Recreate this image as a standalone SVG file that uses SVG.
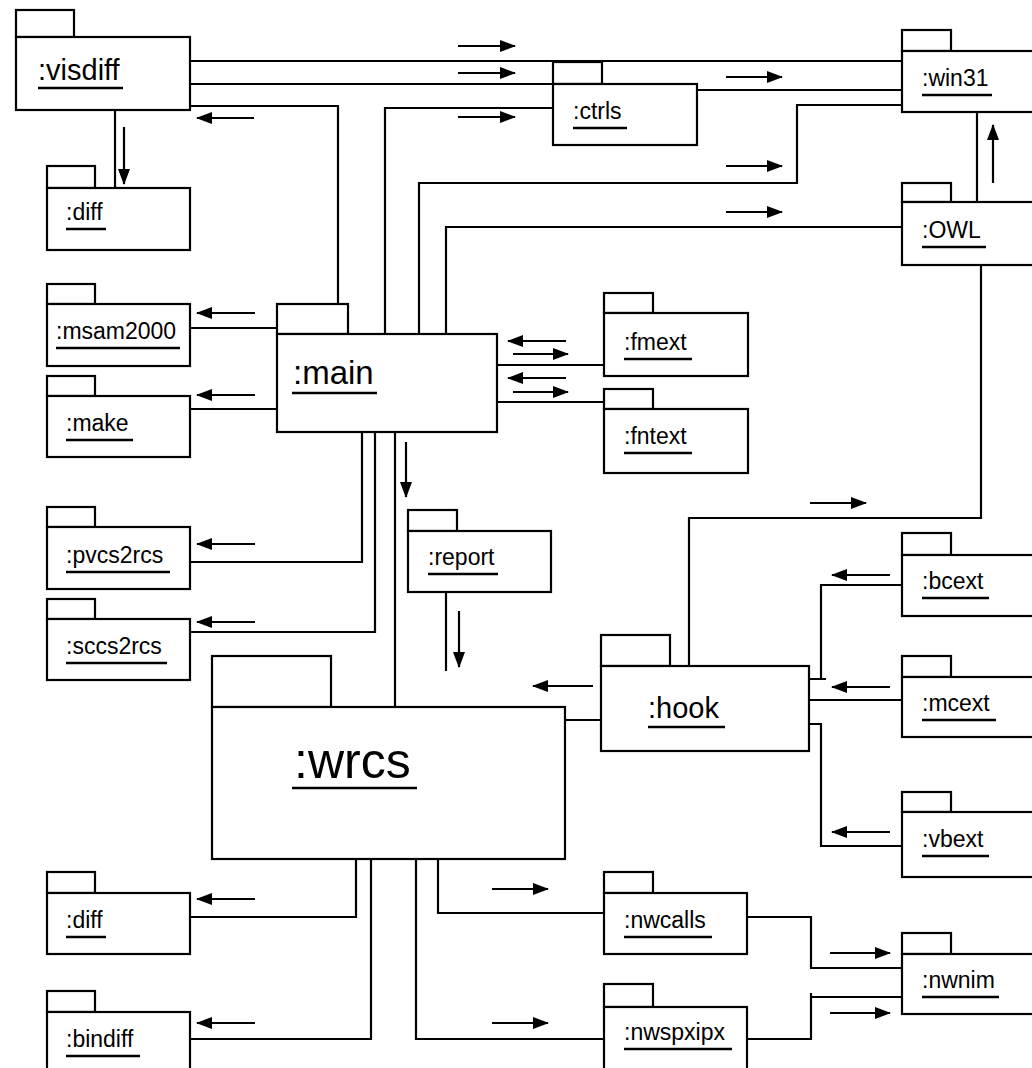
<svg xmlns="http://www.w3.org/2000/svg" width="1032" height="1068" viewBox="0 0 1032 1068">
<style>
.bx{fill:#fff;stroke:#000;stroke-width:2.2}
.c{fill:none;stroke:#000;stroke-width:2.2}
.a{fill:none;stroke:#000;stroke-width:2.2;marker-end:url(#ah)}
.t{font-family:"Liberation Sans",Arial,Helvetica,sans-serif;font-size:23px;fill:#000}
.tm{font-size:29px}
.tb{font-size:33px}
.tw{font-size:50px}
.u{stroke:#000;stroke-width:2.5}
</style>
<defs>
<marker id="ah" markerUnits="userSpaceOnUse" markerWidth="16" markerHeight="12" refX="15" refY="6" orient="auto">
<path d="M0,0 L16,6 L0,12 z" fill="#000"/>
</marker>
</defs>
<rect width="1032" height="1068" fill="#fff"/>
<g id="connectors">
<path class="c" d="M190,61 H902"/>
<path class="c" d="M190,84 H553"/>
<path class="c" d="M338,304 V106 H190"/>
<path class="c" d="M385,334 V108 H553"/>
<path class="c" d="M697,90 H902"/>
<path class="c" d="M419,334 V183 H797 V105 H902"/>
<path class="c" d="M446,334 V227 H902"/>
<path class="c" d="M977,202 V112"/>
<path class="c" d="M115,110 V188"/>
<path class="c" d="M277,328 H190"/>
<path class="c" d="M277,409 H190"/>
<path class="c" d="M362,432 V562 H190"/>
<path class="c" d="M375,432 V632 H190"/>
<path class="c" d="M395,432 V707"/>
<path class="c" d="M446,592 V671"/>
<path class="c" d="M497,365 H604"/>
<path class="c" d="M497,402 H604"/>
<path class="c" d="M689,666 V518 H981 V265"/>
<path class="c" d="M902,585 H821 V679 H809 M821,679 H826"/>
<path class="c" d="M902,700 H809"/>
<path class="c" d="M809,724 H821 V846 H902"/>
<path class="c" d="M601,720 H565"/>
<path class="c" d="M356,859 V917 H190"/>
<path class="c" d="M371,859 V1039 H190"/>
<path class="c" d="M438,859 V913 H604"/>
<path class="c" d="M416,859 V1039 H604"/>
<path class="c" d="M747,917 H811 V968 H902"/>
<path class="c" d="M747,1039 H811 V997 H902 M811,997 V993"/>
<path class="a" d="M458,46 H515"/>
<path class="a" d="M458,73 H515"/>
<path class="a" d="M458,117 H515"/>
<path class="a" d="M254,118 H197"/>
<path class="a" d="M726,77 H782"/>
<path class="a" d="M726,166 H782"/>
<path class="a" d="M726,212 H782"/>
<path class="a" d="M993,183 V125"/>
<path class="a" d="M124,127 V184"/>
<path class="a" d="M255,313 H197"/>
<path class="a" d="M255,395 H197"/>
<path class="a" d="M255,544 H197"/>
<path class="a" d="M255,622 H197"/>
<path class="a" d="M406,442 V497"/>
<path class="a" d="M459,611 V667"/>
<path class="a" d="M566,341 H508"/>
<path class="a" d="M513,354 H568"/>
<path class="a" d="M566,378 H508"/>
<path class="a" d="M513,392 H568"/>
<path class="a" d="M810,503 H866"/>
<path class="a" d="M890,575 H832"/>
<path class="a" d="M890,687 H832"/>
<path class="a" d="M890,832 H832"/>
<path class="a" d="M593,686 H533"/>
<path class="a" d="M255,899 H197"/>
<path class="a" d="M255,1023 H197"/>
<path class="a" d="M492,889 H548"/>
<path class="a" d="M492,1023 H548"/>
<path class="a" d="M830,953 H890"/>
<path class="a" d="M830,1013 H890"/>
</g>
<g id="visdiff"><rect class="bx" x="16" y="10" width="58" height="27"/><rect class="bx" x="16" y="37" width="174" height="73"/><text class="t tm" x="38" y="80">:visdiff</text><line class="u" x1="38" y1="88" x2="123" y2="88"/></g>
<g id="diff1"><rect class="bx" x="47" y="166" width="48" height="22"/><rect class="bx" x="47" y="188" width="143" height="62"/><text class="t" x="66" y="220">:diff</text><line class="u" x1="66" y1="229" x2="106" y2="229"/></g>
<g id="msam2000"><rect class="bx" x="47" y="284" width="48" height="20"/><rect class="bx" x="47" y="304" width="143" height="62"/><text class="t" x="56" y="339">:msam2000</text><line class="u" x1="56" y1="348" x2="180" y2="348"/></g>
<g id="make"><rect class="bx" x="47" y="376" width="48" height="20"/><rect class="bx" x="47" y="396" width="143" height="61"/><text class="t" x="66" y="431">:make</text><line class="u" x1="66" y1="440" x2="133" y2="440"/></g>
<g id="pvcs2rcs"><rect class="bx" x="47" y="507" width="48" height="20"/><rect class="bx" x="47" y="527" width="143" height="62"/><text class="t" x="66" y="563">:pvcs2rcs</text><line class="u" x1="66" y1="572" x2="170" y2="572"/></g>
<g id="sccs2rcs"><rect class="bx" x="47" y="599" width="48" height="20"/><rect class="bx" x="47" y="619" width="143" height="61"/><text class="t" x="66" y="654">:sccs2rcs</text><line class="u" x1="66" y1="663" x2="167" y2="663"/></g>
<g id="diff2"><rect class="bx" x="47" y="872" width="48" height="21"/><rect class="bx" x="47" y="893" width="143" height="61"/><text class="t" x="66" y="928">:diff</text><line class="u" x1="66" y1="937" x2="106" y2="937"/></g>
<g id="bindiff"><rect class="bx" x="47" y="991" width="48" height="21"/><rect class="bx" x="47" y="1012" width="143" height="70"/><text class="t" x="66" y="1047">:bindiff</text><line class="u" x1="66" y1="1056" x2="140" y2="1056"/></g>
<g id="main"><rect class="bx" x="277" y="304" width="71" height="30"/><rect class="bx" x="277" y="334" width="220" height="98"/><text class="t tb" x="293" y="384">:main</text><line class="u" x1="292" y1="393" x2="377" y2="393"/></g>
<g id="report"><rect class="bx" x="408" y="510" width="49" height="21"/><rect class="bx" x="408" y="531" width="143" height="61"/><text class="t" x="428" y="565">:report</text><line class="u" x1="428" y1="574" x2="498" y2="574"/></g>
<g id="wrcs"><rect class="bx" x="212" y="656" width="119" height="51"/><rect class="bx" x="212" y="707" width="353" height="152"/><text class="t tw" x="294" y="778">:wrcs</text><line class="u" x1="292" y1="788" x2="417" y2="788"/></g>
<g id="ctrls"><rect class="bx" x="553" y="62" width="49" height="22"/><rect class="bx" x="553" y="84" width="144" height="61"/><text class="t" x="573" y="119">:ctrls</text><line class="u" x1="573" y1="128" x2="627" y2="128"/></g>
<g id="win31"><rect class="bx" x="902" y="30" width="49" height="21"/><rect class="bx" x="902" y="51" width="140" height="61"/><text class="t" x="922" y="86">:win31</text><line class="u" x1="922" y1="95" x2="992" y2="95"/></g>
<g id="OWL"><rect class="bx" x="902" y="183" width="49" height="19"/><rect class="bx" x="902" y="202" width="140" height="63"/><text class="t" x="922" y="238">:OWL</text><line class="u" x1="922" y1="247" x2="986" y2="247"/></g>
<g id="fmext"><rect class="bx" x="604" y="293" width="49" height="20"/><rect class="bx" x="604" y="313" width="144" height="63"/><text class="t" x="624" y="350">:fmext</text><line class="u" x1="624" y1="359" x2="692" y2="359"/></g>
<g id="fntext"><rect class="bx" x="604" y="389" width="49" height="20"/><rect class="bx" x="604" y="409" width="144" height="64"/><text class="t" x="624" y="444">:fntext</text><line class="u" x1="624" y1="453" x2="692" y2="453"/></g>
<g id="hook"><rect class="bx" x="601" y="635" width="69" height="31"/><rect class="bx" x="601" y="666" width="208" height="85"/><text class="t tm" x="648" y="718">:hook</text><line class="u" x1="648" y1="727" x2="725" y2="727"/></g>
<g id="bcext"><rect class="bx" x="902" y="533" width="49" height="22"/><rect class="bx" x="902" y="555" width="140" height="61"/><text class="t" x="922" y="589">:bcext</text><line class="u" x1="922" y1="598" x2="989" y2="598"/></g>
<g id="mcext"><rect class="bx" x="902" y="656" width="49" height="21"/><rect class="bx" x="902" y="677" width="140" height="60"/><text class="t" x="922" y="711">:mcext</text><line class="u" x1="922" y1="720" x2="996" y2="720"/></g>
<g id="vbext"><rect class="bx" x="902" y="792" width="49" height="20"/><rect class="bx" x="902" y="812" width="140" height="65"/><text class="t" x="922" y="847">:vbext</text><line class="u" x1="922" y1="856" x2="989" y2="856"/></g>
<g id="nwcalls"><rect class="bx" x="604" y="872" width="49" height="21"/><rect class="bx" x="604" y="893" width="143" height="61"/><text class="t" x="624" y="928">:nwcalls</text><line class="u" x1="624" y1="937" x2="712" y2="937"/></g>
<g id="nwspxipx"><rect class="bx" x="604" y="984" width="49" height="23"/><rect class="bx" x="604" y="1007" width="143" height="75"/><text class="t" x="624" y="1040">:nwspxipx</text><line class="u" x1="624" y1="1049" x2="732" y2="1049"/></g>
<g id="nwnim"><rect class="bx" x="902" y="933" width="49" height="21"/><rect class="bx" x="902" y="954" width="140" height="60"/><text class="t" x="922" y="988">:nwnim</text><line class="u" x1="922" y1="997" x2="999" y2="997"/></g>
</svg>
